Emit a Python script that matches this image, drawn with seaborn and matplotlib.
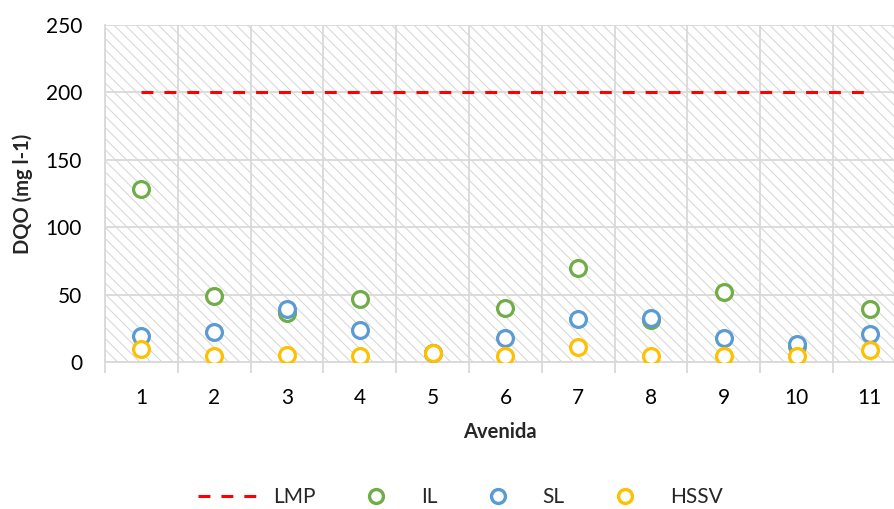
import matplotlib
matplotlib.use("Agg")
import matplotlib.pyplot as plt
from matplotlib.lines import Line2D
import numpy as np
import pandas as pd
import seaborn as sns

# Data
avenida = [1, 2, 3, 4, 5, 6, 7, 8, 9, 10, 11]
il = [128, 49, 36, 47, 7, 40, 70, 31, 52, 12, 39]
sl = [19, 22, 39, 24, 7, 18, 32, 33, 18, 13, 21]
hssv = [10, 4.5, 5, 4.5, 6.5, 4.5, 11, 4.5, 4.5, 4.5, 9]
lmp = [200] * 11
y_ticks = [0, 50, 100, 150, 200, 250]

series_names = ["IL", "SL", "HSSV"]
series_colors = {"IL": "#70AD47", "SL": "#5B9BD5", "HSSV": "#FFC000"}
lmp_color = "#FF0000"
grid_color = "#D9D9D9"

df = pd.DataFrame({
    "Avenida": avenida * 3,
    "DQO": il + sl + hssv,
    "Serie": ["IL"] * 11 + ["SL"] * 11 + ["HSSV"] * 11,
})
df_lmp = pd.DataFrame({"Avenida": avenida, "DQO": lmp})

sns.set_theme(style="white")
plt.rcParams["font.family"] = ["Lato", "DejaVu Sans"]
plt.rcParams["hatch.linewidth"] = 0.8

fig = plt.figure(figsize=(8.94, 5.09), dpi=100)
ax = fig.add_axes([105 / 894, 1 - 362 / 509, 1 - 105 / 894, (362 - 25) / 509])

# hatched plot background
ax.patch.set_facecolor("white")
ax.patch.set_hatch("\\\\\\")
ax.patch.set_edgecolor(grid_color)
ax.patch.set_linewidth(0)

sns.lineplot(data=df_lmp, x="Avenida", y="DQO", ax=ax, color=lmp_color,
             linewidth=2.2, dashes=False, zorder=3)
ax.lines[-1].set_dashes((3.9, 3.6))

for name in series_names:
    sub = df[df["Serie"] == name]
    sns.scatterplot(data=sub, x="Avenida", y="DQO", ax=ax, marker="o", s=130,
                    facecolor="white", edgecolor=series_colors[name],
                    linewidth=2.3, zorder=4, legend=False)

# category boundaries carry the vertical grid, labels sit at category centers
ax.set_xticks(np.arange(0.5, 11.0, 1.0))
ax.set_xticklabels([])
ax.set_xticks(avenida, minor=True)
ax.set_xticklabels([str(a) for a in avenida], minor=True)
ax.tick_params(axis="x", which="major", length=8, width=1.3, color=grid_color,
               direction="out", bottom=True)
ax.tick_params(axis="x", which="minor", length=0, pad=19, labelsize=15,
               labelcolor="#000000")
ax.set_yticks(y_ticks)
ax.tick_params(axis="y", length=0, pad=16.5, labelsize=15, labelcolor="#000000")

ax.set_xlim(0.5, 1 + (894 - 141) / 72.85)
ax.set_ylim(0, 250)

ax.grid(True, which="major", axis="both", color=grid_color, linewidth=1.3)
ax.set_axisbelow(True)

for side in ["top", "right"]:
    ax.spines[side].set_visible(False)
ax.spines["left"].set_color(grid_color)
ax.spines["left"].set_linewidth(1.3)
ax.spines["bottom"].set_color(grid_color)
ax.spines["bottom"].set_linewidth(1.3)

ax.set_xlabel("Avenida", fontsize=14.5, fontweight="bold", labelpad=10)
ax.set_ylabel("DQO (mg l-1)", fontsize=14.5, fontweight="bold", labelpad=9)

handles = [Line2D([0], [0], color=lmp_color, linewidth=2.2, dashes=(3.9, 3.6))]
for name in series_names:
    handles.append(Line2D([0], [0], linestyle="none", marker="o", markersize=10,
                          markerfacecolor="white",
                          markeredgecolor=series_colors[name],
                          markeredgewidth=2.4))
fig.legend(handles, ["LMP"] + series_names, loc="center",
           bbox_to_anchor=(0.515, 1 - 497 / 509), ncol=4, frameon=False,
           fontsize=15, handlelength=2.9, handletextpad=0.7,
           columnspacing=1.45)

fig.savefig("out.png", dpi=100)
